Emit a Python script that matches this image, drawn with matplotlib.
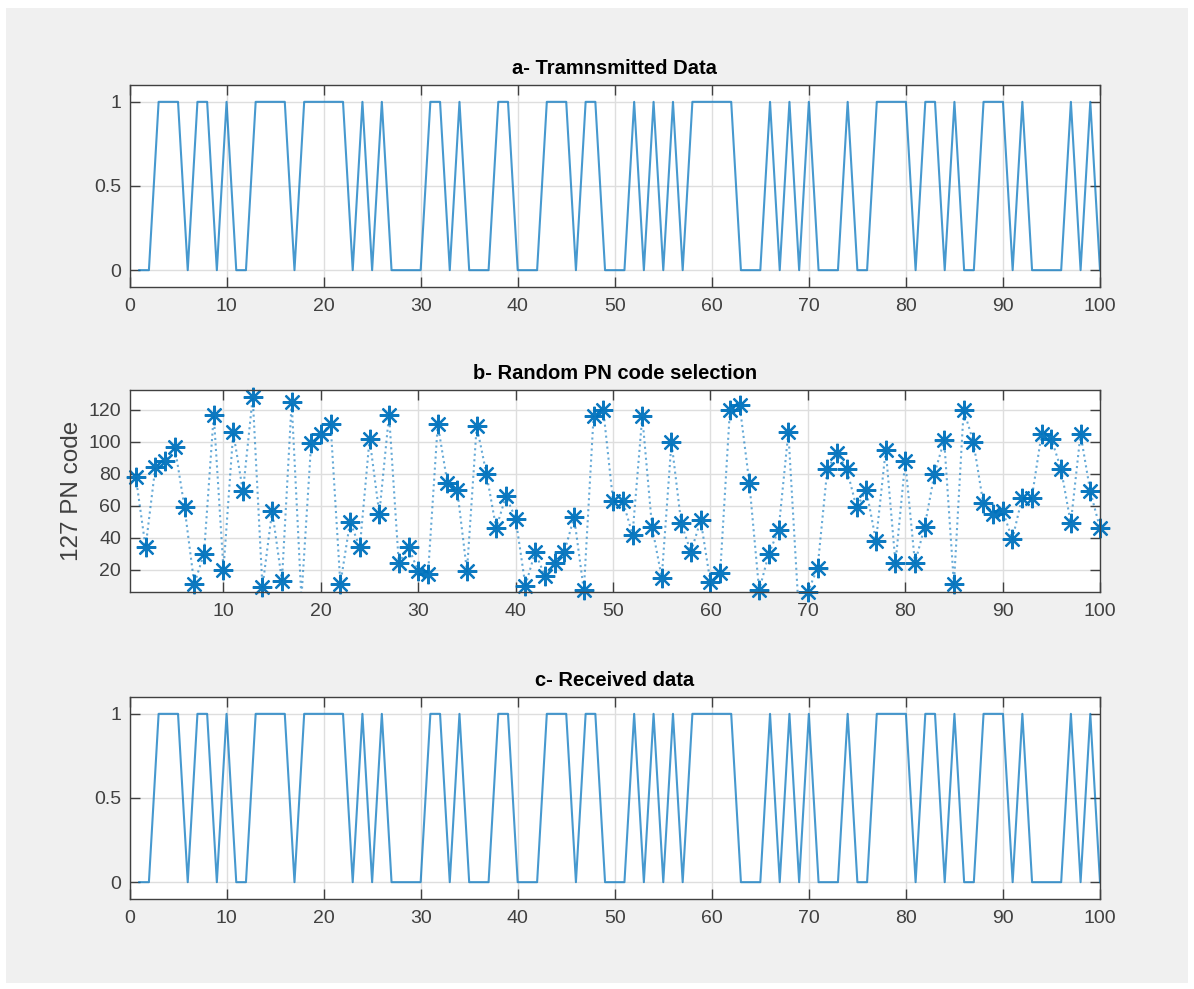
import numpy as np
import matplotlib
matplotlib.use('Agg')
import matplotlib.pyplot as plt
from matplotlib.patches import Rectangle

# ---------------- data ----------------
sample_index = np.arange(1, 101)

tx_bits = [0, 0, 1, 1, 1, 0, 1, 1, 0, 1,
           0, 0, 1, 1, 1, 1, 0, 1, 1, 1,
           1, 1, 0, 1, 0, 1, 0, 0, 0, 0,
           1, 1, 0, 1, 0, 0, 0, 1, 1, 0,
           0, 0, 1, 1, 1, 0, 1, 1, 0, 0,
           0, 1, 0, 1, 0, 1, 0, 1, 1, 1,
           1, 1, 0, 0, 0, 1, 0, 1, 0, 1,
           0, 0, 0, 1, 0, 0, 1, 1, 1, 1,
           0, 1, 1, 0, 1, 0, 0, 1, 1, 1,
           0, 1, 0, 0, 0, 0, 1, 0, 1, 0]

rx_bits = [0, 0, 1, 1, 1, 0, 1, 1, 0, 1,
           0, 0, 1, 1, 1, 1, 0, 1, 1, 1,
           1, 1, 0, 1, 0, 1, 0, 0, 0, 0,
           1, 1, 0, 1, 0, 0, 0, 1, 1, 0,
           0, 0, 1, 1, 1, 0, 1, 1, 0, 0,
           0, 1, 0, 1, 0, 1, 0, 1, 1, 1,
           1, 1, 0, 0, 0, 1, 0, 1, 0, 1,
           0, 0, 0, 1, 0, 0, 1, 1, 1, 1,
           0, 1, 1, 0, 1, 0, 0, 1, 1, 1,
           0, 1, 0, 0, 0, 0, 1, 0, 1, 0]

pn_codes = [78, 34, 84, 88, 97, 59, 11, 30, 117, 20,
            106, 69, 128, 9, 57, 13, 125, 2, 99, 105,
            111, 11, 50, 34, 102, 55, 117, 24, 34, 19,
            17, 111, 74, 70, 19, 110, 80, 46, 66, 52,
            10, 31, 16, 24, 31, 53, 7, 116, 120, 63,
            63, 42, 116, 47, 15, 100, 49, 31, 51, 12,
            18, 120, 123, 74, 7, 30, 45, 106, 1, 6,
            21, 83, 93, 83, 59, 70, 38, 95, 24, 88,
            24, 47, 80, 101, 11, 120, 100, 62, 55, 57,
            39, 65, 65, 105, 102, 83, 49, 105, 69, 46]

titles = ['a- Tramnsmitted Data', 'b- Random PN code selection', 'c- Received data']
bit_ticks = [0, 0.5, 1]
bit_tick_labels = ['0', '0.5', '1']
pn_ylabel = '127 PN code'

# ---------------- style ----------------
plt.rcParams['font.family'] = ['Liberation Sans', 'DejaVu Sans']
W, H = 1194, 989
BLUE = '#0072BD'
fig = plt.figure(figsize=(W / 100, H / 100), dpi=100)
fig.patch.set_facecolor('white')
fig.add_artist(Rectangle((6 / W, 1 - 983 / H), (1188 - 6) / W, (983 - 8) / H,
                         transform=fig.transFigure, facecolor='#f0f0f0',
                         edgecolor='none', zorder=-10))


def make_ax(top_px):
    left = 129.5 / W
    width = (1100 - 129.5) / W
    height = 202 / H
    bottom = 1 - (top_px + 202) / H
    ax = fig.add_axes([left, bottom, width, height])
    ax.set_facecolor('white')
    ax.grid(True, color='#dedede', lw=1)
    ax.set_axisbelow(True)
    ax.tick_params(direction='in', top=True, right=True, length=7, width=1,
                   color='#404040', labelcolor='#404040', labelsize=14)
    ax.tick_params(axis='x', pad=8)
    ax.tick_params(axis='y', pad=6)
    for s in ax.spines.values():
        s.set_color('#404040')
        s.set_linewidth(1)
    return ax


def bits_panel(ax, bits, title):
    ax.plot(sample_index, bits, color=BLUE, lw=1.5, alpha=0.72)
    ax.set_xlim(0, 100)
    ax.set_ylim(-0.1, 1.1)
    ax.set_xticks(np.arange(0, 101, 10))
    ax.set_yticks(bit_ticks)
    ax.set_yticklabels(bit_tick_labels)
    ax.set_title(title, fontsize=14.5, fontweight='bold', pad=8)


ax1 = make_ax(85)
bits_panel(ax1, tx_bits, titles[0])

ax2 = make_ax(390)
pn = np.array(pn_codes)
ylo, yhi = 6, 132.5
ax2.plot(sample_index, pn, ls=':', color=BLUE, lw=1.5, alpha=0.6)
mask = (pn >= ylo) & (pn <= yhi)
ax2.plot(sample_index[mask], pn[mask], ls='none', marker=(8, 2, 0), ms=14,
         mew=1.6, color=BLUE, alpha=0.95, clip_on=False)
ax2.set_xlim(0.35, 100)
ax2.set_ylim(ylo, yhi)
ax2.set_xticks(np.arange(10, 101, 10))
ax2.set_yticks(np.arange(20, 121, 20))
ax2.set_title(titles[1], fontsize=14.5, fontweight='bold', pad=8)
ax2.set_ylabel(pn_ylabel, fontsize=17.5, color='#404040', labelpad=4)

ax3 = make_ax(697)
bits_panel(ax3, rx_bits, titles[2])

fig.savefig('out.png', dpi=100)
